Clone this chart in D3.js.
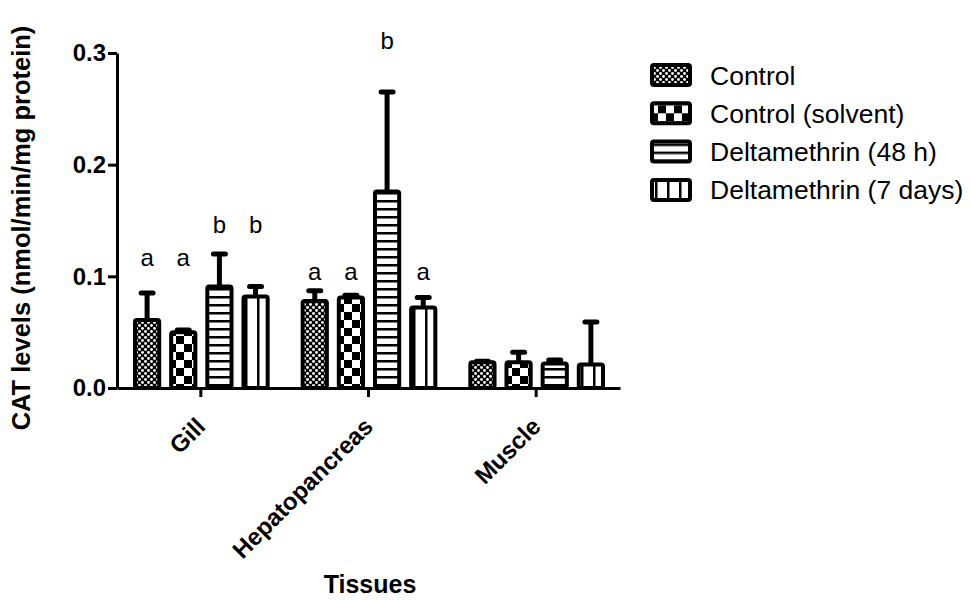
<!DOCTYPE html>
<html>
<head>
<meta charset="utf-8">
<script src="https://cdn.jsdelivr.net/npm/d3@7"></script>
<style>
  body { margin: 0; background: #fff; }
  text { font-family: "Liberation Sans", Arial, sans-serif; }
</style>
</head>
<body>
<div id="chart"></div>
<script>
// data
var tissues = ["Gill", "Hepatopancreas", "Muscle"];
var seriesNames = ["Control", "Control (solvent)", "Deltamethrin (48 h)", "Deltamethrin (7 days)"];

var meanControl = [0.061, 0.078, 0.023];
var meanSolvent = [0.050, 0.081, 0.023];
var mean48h     = [0.091, 0.176, 0.022];
var mean7d      = [0.082, 0.072, 0.021];

var errControl = [0.024, 0.009, 0.001];
var errSolvent = [0.002, 0.002, 0.009];
var err48h     = [0.029, 0.089, 0.003];
var err7d      = [0.009, 0.009, 0.038];

var letterControl = ["a", "a", ""];
var letterSolvent = ["a", "a", ""];
var letter48h     = ["b", "b", ""];
var letter7d      = ["b", "a", ""];
// height (in y units) where each letter baseline sits
var letterLevel = [0.109, 0.097, 0];
var letterLevelB = [0.139, 0.304, 0];

var yTicks = [0, 0.1, 0.2, 0.3];

var svgWidth = 971;
var svgHeight = 600;

var svg = d3.select("#chart")
  .append("svg")
  .attr("width", svgWidth)
  .attr("height", svgHeight);

// patterns for the four groups
var defs = svg.append("defs");

var p1 = defs.append("pattern").attr("id", "pat0")
  .attr("patternUnits", "userSpaceOnUse").attr("width", 6).attr("height", 6);
p1.append("rect").attr("width", 6).attr("height", 6).attr("fill", "#000");
p1.append("circle").attr("cx", 1.5).attr("cy", 1.5).attr("r", 1.4).attr("fill", "#fff");
p1.append("circle").attr("cx", 4.5).attr("cy", 4.5).attr("r", 1.4).attr("fill", "#fff");

var p2 = defs.append("pattern").attr("id", "pat1")
  .attr("patternUnits", "userSpaceOnUse").attr("width", 16).attr("height", 16);
p2.append("rect").attr("width", 16).attr("height", 16).attr("fill", "#fff");
p2.append("rect").attr("width", 8).attr("height", 8).attr("fill", "#000");
p2.append("rect").attr("x", 8).attr("y", 8).attr("width", 8).attr("height", 8).attr("fill", "#000");

var p3 = defs.append("pattern").attr("id", "pat2")
  .attr("patternUnits", "userSpaceOnUse").attr("width", 8).attr("height", 8);
p3.append("rect").attr("width", 8).attr("height", 8).attr("fill", "#fff");
p3.append("rect").attr("y", 0).attr("width", 8).attr("height", 2.5).attr("fill", "#000");

var p4 = defs.append("pattern").attr("id", "pat3")
  .attr("patternUnits", "userSpaceOnUse").attr("width", 12).attr("height", 12);
p4.append("rect").attr("width", 12).attr("height", 12).attr("fill", "#fff");
p4.append("rect").attr("x", 5).attr("width", 2.5).attr("height", 12).attr("fill", "#000");

// scales
var x0 = d3.scaleBand()
  .domain(tissues)
  .range([117, 620])
  .padding(0);

var x1 = d3.scaleBand()
  .domain(d3.range(seriesNames.length))
  .range([16, x0.bandwidth() - 15])
  .paddingInner(0.22);

var y = d3.scaleLinear()
  .domain([0, 0.3])
  .range([388, 53]);

var means = [meanControl, meanSolvent, mean48h, mean7d];
var errs = [errControl, errSolvent, err48h, err7d];
var letters = [letterControl, letterSolvent, letter48h, letter7d];

var rows = [];
tissues.forEach(function(t, i) {
  means.forEach(function(m, s) {
    rows.push({
      tissue: t,
      s: s,
      mean: m[i],
      err: errs[s][i],
      letter: letters[s][i],
      level: letters[s][i] === "b" ? letterLevelB[i] : letterLevel[i]
    });
  });
});

var cx = function(d) { return x0(d.tissue) + x1(d.s) + x1.bandwidth() / 2; };

// error bars (under bars)
var eb = svg.append("g");
eb.selectAll("line.stem")
  .data(rows)
  .enter()
  .append("line")
  .attr("x1", cx)
  .attr("x2", cx)
  .attr("y1", d => y(d.mean))
  .attr("y2", d => y(d.mean + d.err))
  .attr("stroke", "#000")
  .attr("stroke-width", 5);

eb.selectAll("line.cap")
  .data(rows)
  .enter()
  .append("line")
  .attr("x1", d => cx(d) - 6)
  .attr("x2", d => cx(d) + 6)
  .attr("y1", d => y(d.mean + d.err))
  .attr("y2", d => y(d.mean + d.err))
  .attr("stroke", "#000")
  .attr("stroke-width", 5)
  .attr("stroke-linecap", "round");

// bars
svg.append("g")
  .selectAll("rect")
  .data(rows)
  .enter()
  .append("rect")
  .attr("x", d => x0(d.tissue) + x1(d.s) + 2)
  .attr("y", d => y(d.mean))
  .attr("width", x1.bandwidth() - 4)
  .attr("height", d => y(0) - y(d.mean))
  .attr("rx", 2)
  .attr("fill", d => "url(#pat" + d.s + ")")
  .attr("stroke", "#000")
  .attr("stroke-width", 4);

// significance letters
svg.append("g")
  .selectAll("text")
  .data(rows.filter(d => d.letter))
  .enter()
  .append("text")
  .attr("x", cx)
  .attr("y", d => y(d.level))
  .attr("text-anchor", "middle")
  .attr("font-size", "24px")
  .text(d => d.letter);

// axes
var leftAxis = d3.axisLeft(y)
  .tickValues(yTicks)
  .tickFormat(d3.format(".1f"))
  .tickSize(9)
  .tickSizeOuter(0)
  .tickPadding(2);

var yg = svg.append("g")
  .attr("transform", "translate(117,0)")
  .call(leftAxis);
yg.select(".domain").attr("stroke-width", 3);
yg.selectAll(".tick line").attr("stroke-width", 3);
yg.selectAll(".tick text")
  .attr("font-size", "24px")
  .attr("font-weight", "bold")
  .attr("font-family", "Liberation Sans, Arial, sans-serif");

var bottomAxis = d3.axisBottom(x0)
  .tickSize(9)
  .tickSizeOuter(0);

var xg = svg.append("g")
  .attr("transform", "translate(0,388)")
  .call(bottomAxis);
xg.select(".domain").attr("stroke-width", 3);
xg.selectAll(".tick line").attr("stroke-width", 3);
xg.selectAll(".tick text")
  .attr("font-size", "24px")
  .attr("font-weight", "bold")
  .attr("font-family", "Liberation Sans, Arial, sans-serif")
  .attr("text-anchor", "end")
  .attr("dy", null)
  .attr("y", null)
  .attr("transform", "translate(6,40) rotate(-45)");

// axis titles
svg.append("text")
  .attr("transform", "rotate(-90)")
  .attr("x", -228)
  .attr("y", 30)
  .attr("text-anchor", "middle")
  .attr("font-size", "25.5px")
  .attr("font-weight", "bold")
  .text("CAT levels (nmol/min/mg protein)");

svg.append("text")
  .attr("x", 370)
  .attr("y", 593)
  .attr("text-anchor", "middle")
  .attr("font-size", "25px")
  .attr("font-weight", "bold")
  .text("Tissues");

// legend
var legend = svg.append("g")
  .selectAll("g")
  .data(seriesNames)
  .enter()
  .append("g")
  .attr("transform", (d, i) => `translate(650, ${75 + i * 38.3})`);

legend.append("rect")
  .attr("x", 2)
  .attr("y", -10)
  .attr("width", 38)
  .attr("height", 20)
  .attr("rx", 2)
  .attr("fill", (d, i) => "url(#pat" + i + ")")
  .attr("stroke", "#000")
  .attr("stroke-width", 4);

legend.append("text")
  .attr("x", 60)
  .attr("y", 0)
  .attr("dy", "0.36em")
  .attr("font-size", "26.5px")
  .text(d => d);
</script>
</body>
</html>
